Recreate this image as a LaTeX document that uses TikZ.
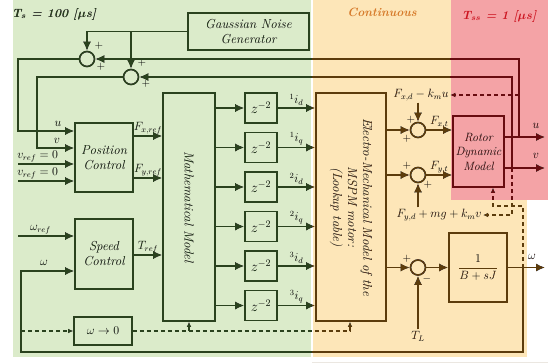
\documentclass[tikz,border=0pt,12pt]{standalone}
\usepackage{amsmath}
\usepackage{amssymb}
\usetikzlibrary{arrows.meta,positioning}

\definecolor{bggreen}{RGB}{219,235,202}
\definecolor{bgorange}{RGB}{253,230,184}
\definecolor{bgred}{RGB}{244,163,166}
\definecolor{inkgreen}{RGB}{42,66,30}
\definecolor{inkbrown}{RGB}{92,60,12}
\definecolor{inkred}{RGB}{104,12,16}
\definecolor{txtorange}{RGB}{214,122,42}
\definecolor{txtred}{RGB}{204,20,32}
\newcommand{\boxfont}{\fontsize{13}{15}\selectfont\itshape}

\begin{document}
\begin{tikzpicture}[x=1pt,y=-1pt,
	blk/.style={draw,line width=1.6pt,font=\boxfont,align=center,inner sep=1pt},
	summ/.style={draw,circle,line width=1.6pt,minimum size=15pt,inner sep=0pt},
	sig/.style={line width=1.6pt,-{Latex[length=9pt,width=8pt]}},
	dsig/.style={line width=1.1pt,dash pattern=on 4pt off 3pt,-{Latex[length=5pt,width=4.5pt]}},
	lbl/.style={font=\normalsize,inner sep=1.5pt},
	sgn/.style={font=\small,inner sep=0pt}]
	\useasboundingbox (0,0) rectangle (548,362);
	\fill[white] (0,0) rectangle (548,362);
	% time domains
	\fill[bggreen] (13,0) rectangle (311,357);
	\fill[bgorange] (313,0) rectangle (527,357);
	\fill[bgred] (451,0) rectangle (548,200);
	\node[font=\bfseries\itshape\boldmath] (ts) at (54,14) {T$_s$ = 100 [$\mu$s]};
	\node[font=\bfseries\itshape,text=txtorange] (cont) at (382,12) {Continuous};
	\node[font=\bfseries\itshape\boldmath,text=txtred] (tss) at (499,16) {T$_{ss}$ = 1 [$\mu$s]};

	% blocks
	\node[blk,minimum width=121pt,minimum height=37pt] (noise) at (248.5,31.5) {Gaussian Noise\\Generator};
	\node[summ] (s1) at (87,59) {};
	\node[summ] (s2) at (131,77) {};
	\node[blk,minimum width=58pt,minimum height=69pt] (pos) at (104,157.5) {Position\\Control};
	\node[blk,minimum width=58pt,minimum height=70pt] (spd) at (104,254) {Speed\\Control};
	\node[blk,minimum width=58pt,minimum height=28pt] (zero) at (103,331) {$\omega \rightarrow 0$};
	\node[blk,minimum width=52pt,minimum height=228pt] (math) at (189,207) {};
	\node[rotate=-90,font=\boxfont] (mathname) at (math) {Mathematical Model};
	\node[blk,minimum width=70pt,minimum height=228pt] (elec) at (351,207) {};
	\node[rotate=-90,font=\boxfont,align=center] (elecname) at (elec) {Electro-Mechanical Model of the\\MSPM motor:\\(Lookup table)};
	\node[summ] (s3) at (418,130) {};
	\node[summ] (s4) at (418,175) {};
	\node[summ] (s5) at (418,267.5) {};
	\node[blk,minimum width=51pt,minimum height=71pt,font=\normalsize\itshape] (rotor) at (478.5,151.5) {Rotor\\Dynamic\\Model};
	\node[blk,minimum width=58pt,minimum height=69pt,font=\normalsize] (tf) at (478,267.5) {$\dfrac{1}{B+sJ}$};

	% noise and feedback
	\draw[sig] (noise.west) -| (s1.north);
	\draw[sig] (noise.west -| s2) -- (s2.north);
	\coordinate (uj) at (519,137);
	\coordinate (vj) at (512,168);
	\coordinate (wj) at (523,267.5);
	\draw[sig] (uj) |- (s1.east);
	\draw[sig] (vj) |- (s2.east);
	\draw[sig] (s1.west) -| (18,131) -- (pos.west |- 0,131);
	\draw[sig] (s2.west) -| (37,148) -- (pos.west |- 0,148);
	\node[lbl] (ulbl) at (58,124) {$u$};
	\node[lbl] (vlbl) at (57,141) {$v$};
	\coordinate (vr1) at (18,164);
	\coordinate (vr2) at (18,181);
	\draw[sig] (vr1) -- (pos.west |- vr1) node[lbl,above,pos=0.35] {$v_{ref} = 0$};
	\draw[sig] (vr2) -- (pos.west |- vr2) node[lbl,above,pos=0.35] {$v_{ref} = 0$};
	\coordinate (wref) at (18,236);
	\draw[sig] (wref) -- (spd.west |- wref) node[lbl,above,pos=0.4] {$\omega_{ref}$};
	\draw[sig] (wj) |- (21,352) |- (spd.west |- 0,271);
	\node[lbl] (wlbl) at (44,263) {$\omega$};
	\draw[sig] (pos.east |- 0,136) -- (math.west |- 0,136) node[lbl,midway,above] {$F_{x,ref}$};
	\draw[sig] (pos.east |- 0,178) -- (math.west |- 0,178) node[lbl,midway,above] {$F_{y,ref}$};
	\draw[sig] (spd.east |- 0,255) -- (math.west |- 0,255) node[lbl,midway,above] {$T_{ref}$};

	% delays
	\foreach \k/\ax [count=\n from 0] in {1/d,1/q,2/d,2/q,3/d,3/q} {
		\node[blk,minimum width=32pt,minimum height=30pt,font=\large] (z\n) at (261,108+39.5*\n) {$z^{-2}$};
		\draw[sig] (math.east |- z\n) -- (z\n.west);
		\draw[sig] (z\n.east) -- (elec.west |- z\n) node[lbl,midway,above] {${}^{\k}i_{\ax}$};
	}

	% rotor side
	\draw[sig] (elec.east |- s3) -- (s3.west);
	\draw[sig] (elec.east |- s4) -- (s4.west);
	\draw[sig] (elec.east |- s5) -- (s5.west);
	\draw[sig] (s3.east) -- (rotor.west |- s3) node[lbl,midway,above] {$F_{x,t}$};
	\draw[sig] (s4.east) -- (rotor.west |- s4) node[lbl,midway,above] {$F_{y,t}$};
	\draw[sig] (s5.east) -- (tf.west |- s5);
	\node[lbl] (fxd) at (421,95) {$F_{x,d} - k_m u$};
	\node[lbl] (fyd) at (439,215) {$F_{y,d} + mg + k_m v$};
	\node[lbl] (tl) at (418,336) {$T_L$};
	\draw[sig] (fxd.south -| s3) -- (s3.north);
	\draw[sig] (fyd.north -| s4) -- (s4.south);
	\draw[sig] (tl.north) -- (s5.south);
	\coordinate (uend) at (545,137);
	\coordinate (vend) at (545,168);
	\coordinate (wend) at (545,267.5);
	\draw[sig] (rotor.east |- uend) -- (uend);
	\draw[sig] (rotor.east |- vend) -- (vend);
	\draw[sig] (tf.east) -- (wend);
	\node[lbl] (uout) at (536,126) {$u$};
	\node[lbl] (vout) at (536,156) {$v$};
	\node[lbl] (wout) at (532,257) {$\omega$};

	% signs
	\node[sgn] (s1a) at (99,46) {$+$};
	\node[sgn] (s1b) at (101,67) {$+$};
	\node[sgn] (s2a) at (142,63) {$+$};
	\node[sgn] (s2b) at (146,84) {$+$};
	\node[sgn] (s3a) at (411,120) {$+$};
	\node[sgn] (s3b) at (407,139) {$+$};
	\node[sgn] (s4a) at (407,166) {$+$};
	\node[sgn] (s4b) at (428,185) {$+$};
	\node[sgn] (s5a) at (407,259) {$+$};
	\node[sgn] (s5b) at (427,279) {$-$};

	% dashed paths
	\draw[dsig] (uj |- fxd) -- (fxd.east);
	\draw[dsig] (vj) -- (vj |- fyd) -- (fyd.east);
	\draw[dsig] (wj) |- (493,206) -- (rotor.south -| 493,0);
	\draw[dsig] (zero.west -| 21,0) -- (zero.west);
	\draw[dsig] (zero.east) -| (elec.south -| 350,0);
	\draw[dsig] (math.south |- zero) -- (math.south);

	% ink of each domain
	\begin{scope}[blend mode=lighten]
		\fill[inkgreen] (0,0) rectangle (312,362);
		\fill[inkbrown] (312,0) -- (450,0) -- (450,200) -- (548,200) -- (548,362) -- (312,362) -- cycle;
		\fill[inkred] (450,0) rectangle (548,200);
	\end{scope}
\end{tikzpicture}
\end{document}
